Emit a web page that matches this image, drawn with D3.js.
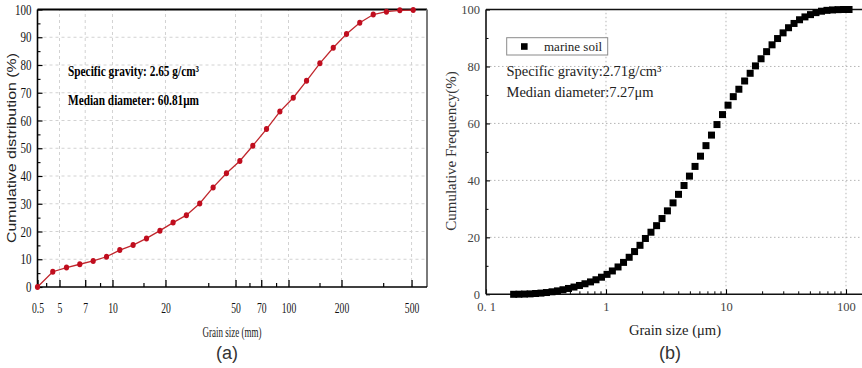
<!DOCTYPE html>
<html><head><meta charset="utf-8">
<script src="https://cdn.jsdelivr.net/npm/d3@7"></script>
<style>html,body{margin:0;padding:0;background:#fff;overflow:hidden}</style>
</head><body>
<script>
// ---------- Panel (a) data ----------
const leftSizes = [0.5, 4.58, 5.48, 6.52, 7.77, 9.25, 11.0, 13.1, 15.6, 18.6, 22.1, 26.3, 31.3, 37.3, 44.4, 52.9, 62.7, 75.0, 89.3, 106.4, 126.6, 150.7, 179.6, 213.6, 254, 303, 360, 429, 511];
const leftCum   = [0, 5.5, 7.0, 8.2, 9.4, 10.9, 13.3, 15.1, 17.5, 20.3, 23.2, 25.9, 30.1, 35.9, 41.0, 45.4, 50.9, 56.9, 63.2, 68.2, 74.3, 80.6, 86.2, 91.2, 95.2, 98.2, 99.2, 99.7, 99.8];
const leftXTicks = [0.5, 5, 7, 10, 20, 50, 70, 100, 200, 500];
const leftXGrid = [5, 7, 10, 20, 50, 70, 100, 200, 500];
const leftXMinor = [4.2, 8.5, 15, 35, 60, 85, 150, 345];
const leftYTicks = [0, 10, 20, 30, 40, 50, 60, 70, 80, 90, 100];
const leftYMinor = [5, 15, 25, 35, 45, 55, 65, 75, 85, 95];

// ---------- Panel (b) data ----------
const rightSizes = [0.170,0.188,0.209,0.233,0.259,0.287,0.319,0.355,0.394,0.438,0.487,0.541,0.601,0.668,0.743,0.825,0.917,1.02,1.13,1.26,1.40,1.56,1.73,1.92,2.13,2.37,2.64,2.93,3.25,3.62,4.02,4.47,4.96,5.52,6.13,6.81,7.57,8.41,9.35,10.4,11.5,12.8,14.3,15.9,17.6,19.6,21.8,24.2,26.9,29.9,33.2,36.9,41.0,45.5,50.6,56.2,62.5,69.4,77.2,85.8,95.3,106];
const rightCum = [0.0,0.03,0.08,0.15,0.28,0.42,0.62,0.88,1.2,1.6,
  2.05,2.55,3.1,3.7,4.35,5.1,6.0,7.0,8.2,9.6,
  11.2,13.0,15.0,17.2,19.6,21.8,24.1,26.6,29.3,32.1,
  35.1,38.2,41.5,44.9,48.5,52.2,55.9,59.6,63.1,66.4,
  69.4,72.0,74.9,77.6,80.2,82.7,85.2,87.6,89.8,91.8,
  93.6,95.1,96.4,97.4,98.2,98.9,99.4,99.7,99.85,99.95,
  100,100];
const rightXTicks = [0.1, 1, 10, 100];
const rightXTickLabels = ["0. 1", "1", "10", "100"];
const rightXMinor = [0.2,0.3,0.4,0.5,0.6,0.7,0.8,0.9,2,3,4,5,6,7,8,9,20,30,40,50,60,70,80,90];
const rightXGrid = [1, 10, 100];
const rightYTicks = [0, 20, 40, 60, 80, 100];
const rightYGrid = [20, 40, 60, 80];
const rightYMinor = [10, 30, 50, 70, 90];
const seriesName = "marine soil";

const svg = d3.select("body").append("svg").attr("width", 862).attr("height", 368)
  .style("display","block").style("background","#fff");

// =============== Panel (a) ===============
const xL = d3.scaleLog().domain([3.75, 612]).range([37.5, 427]).clamp(true);
const yL = d3.scaleLinear().domain([0, 100]).range([287, 9.5]);
const gA = svg.append("g");

gA.selectAll(".vg").data(leftXGrid).join("line")
  .attr("x1", d => xL(d)).attr("x2", d => xL(d)).attr("y1", yL(0)).attr("y2", yL(100))
  .attr("stroke", "#d2d2d2").attr("stroke-width", 1).attr("stroke-dasharray", "3,3");
gA.selectAll(".hg").data(leftYTicks.filter(d => d > 0 && d < 100)).join("line")
  .attr("x1", xL.range()[0]).attr("x2", xL.range()[1]).attr("y1", d => yL(d)).attr("y2", d => yL(d))
  .attr("stroke", "#d2d2d2").attr("stroke-width", 1).attr("stroke-dasharray", "3,3");

const axBL = gA.append("g").attr("transform", `translate(0,${yL(0)})`)
  .call(d3.axisBottom(xL).tickValues(leftXTicks).tickFormat(d => String(d)).tickSize(-7).tickPadding(14.5));
axBL.select(".domain").remove();
axBL.selectAll("line").attr("stroke", "#000").attr("stroke-width", 1.3);
axBL.selectAll("text").attr("font-family", "Liberation Serif").attr("font-size", 15.5).attr("fill", "#111")
  .attr("transform", "scale(0.62,1)");
const axBLm = gA.append("g").attr("transform", `translate(0,${yL(0)})`)
  .call(d3.axisBottom(xL).tickValues(leftXMinor).tickFormat("").tickSize(-4));
axBLm.select(".domain").remove();
axBLm.selectAll("line").attr("stroke", "#000").attr("stroke-width", 1.2);

const axLL = gA.append("g").attr("transform", `translate(${xL.range()[0]},0)`)
  .call(d3.axisLeft(yL).tickValues(leftYTicks).tickSize(-5).tickPadding(6));
axLL.select(".domain").remove();
axLL.selectAll("line").attr("stroke", "#000").attr("stroke-width", 1.2);
axLL.selectAll("text").attr("font-family", "Liberation Serif").attr("font-size", 14.5).attr("fill", "#111")
  .attr("x", 0).attr("transform", "translate(-6,0) scale(0.76,1)");
const axLLm = gA.append("g").attr("transform", `translate(${xL.range()[0]},0)`)
  .call(d3.axisLeft(yL).tickValues(leftYMinor).tickFormat("").tickSize(-3));
axLLm.select(".domain").remove();
axLLm.selectAll("line").attr("stroke", "#000").attr("stroke-width", 1.1);

gA.append("line").attr("x1", 37.5).attr("x2", 427).attr("y1", 9.5).attr("y2", 9.5).attr("stroke", "#000").attr("stroke-width", 2);
gA.append("line").attr("x1", 427).attr("x2", 427).attr("y1", 9.5).attr("y2", 287).attr("stroke", "#7a7a7a").attr("stroke-width", 2);
gA.append("line").attr("x1", 37.5).attr("x2", 37.5).attr("y1", 9.5).attr("y2", 287).attr("stroke", "#000").attr("stroke-width", 1.6);
gA.append("line").attr("x1", 37.5).attr("x2", 427).attr("y1", 287).attr("y2", 287).attr("stroke", "#000").attr("stroke-width", 1.6);

const leftData = leftSizes.map((s, i) => ({ s, v: leftCum[i] }));
gA.append("path").datum(leftData)
  .attr("d", d3.line().x(d => xL(d.s)).y(d => yL(d.v)))
  .attr("fill", "none").attr("stroke", "#c0272d").attr("stroke-width", 1.3);
gA.selectAll(".pt").data(leftData).join("ellipse")
  .attr("cx", d => xL(d.s)).attr("cy", d => yL(d.v)).attr("rx", 2.6).attr("ry", 3.0)
  .attr("fill", "#c00d1e");

gA.append("text").attr("x", 68).attr("y", 75.5).attr("font-family", "Liberation Serif").attr("font-weight", "bold")
  .attr("font-size", 14).attr("textLength", 131).attr("lengthAdjust", "spacingAndGlyphs")
  .text("Specific gravity: 2.65 g/cm³");
gA.append("text").attr("x", 68).attr("y", 104.5).attr("font-family", "Liberation Serif").attr("font-weight", "bold")
  .attr("font-size", 14).attr("textLength", 131).attr("lengthAdjust", "spacingAndGlyphs")
  .text("Median diameter: 60.81μm");
gA.append("text").attr("transform", "translate(16,148) rotate(-90)").attr("text-anchor", "middle")
  .attr("font-family", "Liberation Sans").attr("font-size", 13).attr("fill", "#222")
  .attr("textLength", 190).attr("lengthAdjust", "spacingAndGlyphs")
  .text("Cumulative distribution (%)");
gA.append("text").attr("x", 232).attr("y", 336.5).attr("text-anchor", "middle")
  .attr("font-family", "Liberation Serif").attr("font-size", 14).attr("fill", "#222")
  .attr("textLength", 59).attr("lengthAdjust", "spacingAndGlyphs").text("Grain size (mm)");
gA.append("text").attr("x", 227).attr("y", 359).attr("text-anchor", "middle")
  .attr("font-family", "Liberation Sans").attr("font-size", 18).attr("fill", "#333").text("(a)");

// =============== Panel (b) ===============
const xR = d3.scaleLog().domain([0.1, 158.5]).range([486, 870]);
const yR = d3.scaleLinear().domain([0, 100]).range([294.3, 9.5]);
const gB = svg.append("g");

gB.selectAll(".vg").data(rightXGrid).join("line")
  .attr("x1", d => xR(d)).attr("x2", d => xR(d)).attr("y1", yR(0)).attr("y2", yR(100))
  .attr("stroke", "#b5b5b5").attr("stroke-width", 1).attr("stroke-dasharray", "1.5,2.5");
gB.selectAll(".hg").data(rightYGrid).join("line")
  .attr("x1", 486).attr("x2", 870).attr("y1", d => yR(d)).attr("y2", d => yR(d))
  .attr("stroke", "#b5b5b5").attr("stroke-width", 1).attr("stroke-dasharray", "1.5,2.5");

const axBR = gB.append("g").attr("transform", `translate(0,${yR(0)})`)
  .call(d3.axisBottom(xR).tickValues(rightXTicks).tickFormat((d, i) => rightXTickLabels[i]).tickSize(-5).tickPadding(8));
axBR.select(".domain").remove();
axBR.selectAll("line").attr("stroke", "#000").attr("stroke-width", 1.1);
axBR.selectAll("text").attr("font-family", "Liberation Serif").attr("font-size", 12.5).attr("fill", "#444");
const axBRm = gB.append("g").attr("transform", `translate(0,${yR(0)})`)
  .call(d3.axisBottom(xR).tickValues(rightXMinor).tickFormat("").tickSize(-3));
axBRm.select(".domain").remove();
axBRm.selectAll("line").attr("stroke", "#000").attr("stroke-width", 1);

const axLR = gB.append("g").attr("transform", `translate(486,0)`)
  .call(d3.axisLeft(yR).tickValues(rightYTicks).tickSize(-4).tickPadding(6));
axLR.select(".domain").remove();
axLR.selectAll("line").attr("stroke", "#000").attr("stroke-width", 1.1);
axLR.selectAll("text").attr("font-family", "Liberation Serif").attr("font-size", 12.5).attr("fill", "#444");
const axLRm = gB.append("g").attr("transform", `translate(486,0)`)
  .call(d3.axisLeft(yR).tickValues(rightYMinor).tickFormat("").tickSize(-2.5));
axLRm.select(".domain").remove();
axLRm.selectAll("line").attr("stroke", "#000").attr("stroke-width", 1);

gB.append("line").attr("x1", 486).attr("x2", 870).attr("y1", 9.5).attr("y2", 9.5).attr("stroke", "#111").attr("stroke-width", 1.6);
gB.append("line").attr("x1", 486).attr("x2", 486).attr("y1", 9.5).attr("y2", 294.3).attr("stroke", "#111").attr("stroke-width", 1.6);
gB.append("line").attr("x1", 486).attr("x2", 870).attr("y1", 294.3).attr("y2", 294.3).attr("stroke", "#111").attr("stroke-width", 1.6);

const rightData = rightSizes.map((s, i) => ({ s, v: rightCum[i] }));
const sq = 7;
gB.selectAll(".sq").data(rightData).join("rect")
  .attr("x", d => xR(d.s) - sq / 2).attr("y", d => yR(d.v) - sq / 2)
  .attr("width", sq).attr("height", sq).attr("fill", "#000");

gB.append("rect").attr("x", 506.7).attr("y", 37.7).attr("width", 101).attr("height", 17.3)
  .attr("fill", "#fff").attr("stroke", "#8a8a8a").attr("stroke-width", 1);
gB.append("rect").attr("x", 524.3 - 3.3).attr("y", 46.5 - 3.3).attr("width", 6.6).attr("height", 6.6).attr("fill", "#000");
gB.append("text").attr("x", 544).attr("y", 50.8).attr("font-family", "Liberation Serif").attr("font-size", 13)
  .attr("fill", "#222").text(seriesName);

gB.append("text").attr("x", 506.5).attr("y", 75.5).attr("font-family", "Liberation Serif").attr("font-size", 14.5)
  .attr("fill", "#222").text("Specific gravity:2.71g/cm³");
gB.append("text").attr("x", 506.5).attr("y", 97).attr("font-family", "Liberation Serif").attr("font-size", 14.5)
  .attr("fill", "#222").text("Median diameter:7.27μm");

gB.append("text").attr("transform", "translate(456,151) rotate(-90)").attr("text-anchor", "middle")
  .attr("font-family", "Liberation Serif").attr("font-size", 15).attr("fill", "#333")
  .text("Cumulative Frequency(%)");
gB.append("text").attr("x", 675).attr("y", 335).attr("text-anchor", "middle")
  .attr("font-family", "Liberation Serif").attr("font-size", 14.6).attr("fill", "#222").text("Grain size (μm)");
gB.append("text").attr("x", 670).attr("y", 359).attr("text-anchor", "middle")
  .attr("font-family", "Liberation Sans").attr("font-size", 18).attr("fill", "#333").text("(b)");
</script>
</body></html>
